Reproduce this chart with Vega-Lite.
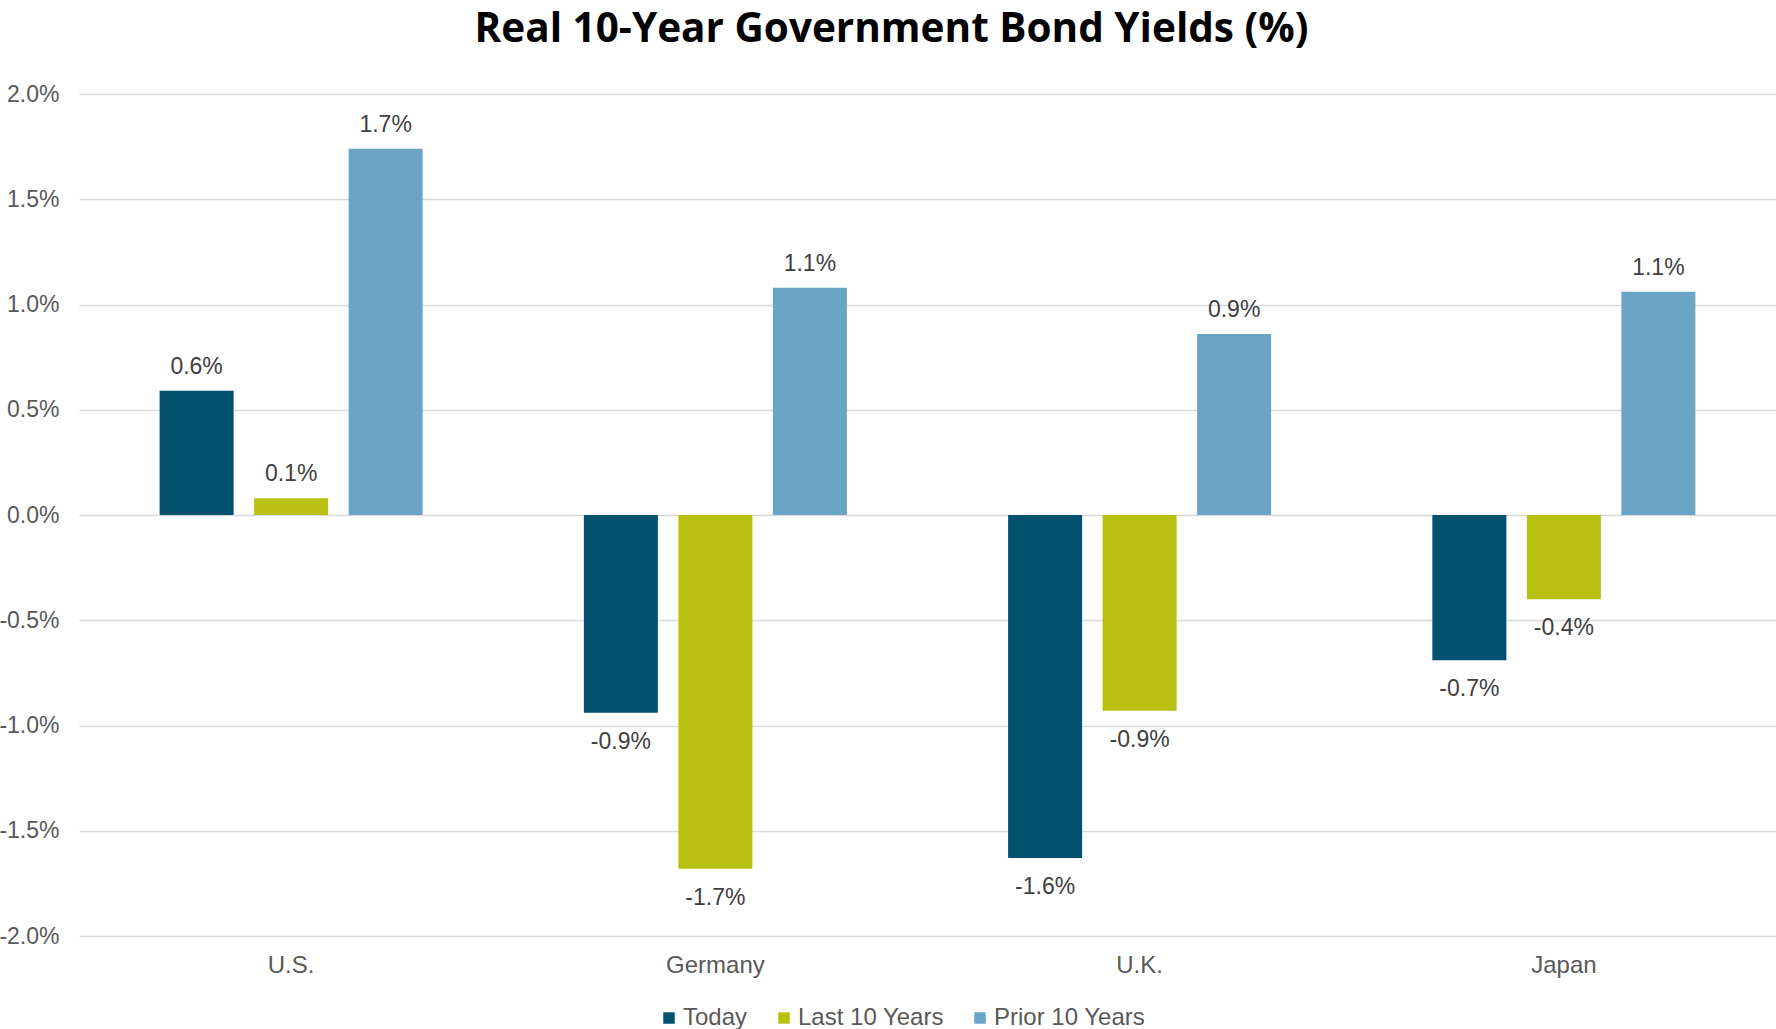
{
  "$schema": "https://vega.github.io/schema/vega-lite/v6.json",
  "autosize": {"type": "none"},
  "width": 1697,
  "height": 842,
  "padding": {"left": 79, "top": 94, "right": 0, "bottom": 93},
  "background": "white",
  "title": {
    "text": "Real 10-Year Government Bond Yields (%)",
    "font": "Open Sans",
    "fontWeight": "bold",
    "fontSize": 40.5,
    "color": "#000000",
    "anchor": "middle",
    "frame": "group",
    "dx": -36,
    "offset": 33
  },
  "data": {
    "values": [
      {"country": "U.S.", "series": "Today", "yield": 0.59},
      {"country": "U.S.", "series": "Last 10 Years", "yield": 0.08},
      {"country": "U.S.", "series": "Prior 10 Years", "yield": 1.74},
      {"country": "Germany", "series": "Today", "yield": -0.94},
      {"country": "Germany", "series": "Last 10 Years", "yield": -1.68},
      {"country": "Germany", "series": "Prior 10 Years", "yield": 1.08},
      {"country": "U.K.", "series": "Today", "yield": -1.63},
      {"country": "U.K.", "series": "Last 10 Years", "yield": -0.93},
      {"country": "U.K.", "series": "Prior 10 Years", "yield": 0.86},
      {"country": "Japan", "series": "Today", "yield": -0.69},
      {"country": "Japan", "series": "Last 10 Years", "yield": -0.40},
      {"country": "Japan", "series": "Prior 10 Years", "yield": 1.06}
    ]
  },
  "encoding": {
    "x": {
      "field": "country",
      "type": "nominal",
      "sort": ["U.S.", "Germany", "U.K.", "Japan"],
      "scale": {"paddingInner": 0.38, "paddingOuter": 0.19},
      "axis": {
        "title": null,
        "labelAngle": 0,
        "domain": false,
        "ticks": false,
        "labelFont": "Liberation Sans",
        "labelFontSize": 24,
        "labelColor": "#595959",
        "labelPadding": 17
      }
    },
    "xOffset": {
      "field": "series",
      "type": "nominal",
      "sort": ["Today", "Last 10 Years", "Prior 10 Years"],
      "scale": {"paddingInner": 0.217, "paddingOuter": 0}
    },
    "y": {
      "field": "yield",
      "type": "quantitative",
      "scale": {"domain": [-2, 2], "nice": false},
      "axis": {
        "title": null,
        "values": [-2, -1.5, -1, -0.5, 0, 0.5, 1, 1.5, 2],
        "labelExpr": "replace(format(datum.value, '.1f'), '\u2212', '-') + '%'",
        "domain": false,
        "ticks": false,
        "grid": true,
        "gridColor": "#d9d9d9",
        "gridWidth": 1.5,
        "labelFont": "Liberation Sans",
        "labelFontSize": 23,
        "labelColor": "#595959",
        "labelPadding": 20
      }
    }
  },
  "layer": [
    {
      "mark": {"type": "bar"},
      "encoding": {
        "color": {
          "field": "series",
          "type": "nominal",
          "sort": ["Today", "Last 10 Years", "Prior 10 Years"],
          "scale": {
            "domain": ["Today", "Last 10 Years", "Prior 10 Years"],
            "range": ["#01516F", "#B8C111", "#6BA5C6"]
          },
          "legend": {
            "title": null,
            "orient": "none",
            "legendX": 578,
            "legendY": 912,
            "direction": "horizontal",
            "symbolType": "square",
            "symbolSize": 132,
            "symbolStrokeWidth": 0,
            "labelFont": "Liberation Sans",
            "labelFontSize": 24,
            "labelColor": "#595959",
            "labelOffset": 2,
            "columnPadding": 24
          }
        }
      }
    },
    {
      "transform": [{"filter": "datum.yield >= 0"}],
      "mark": {
        "type": "text",
        "baseline": "alphabetic",
        "dy": -17,
        "font": "Liberation Sans",
        "fontSize": 23,
        "color": "#404040",
        "text": {"expr": "replace(format(datum.yield, '.1f'), '\u2212', '-') + '%'"}
      }
    },
    {
      "transform": [{"filter": "datum.yield < 0"}],
      "mark": {
        "type": "text",
        "baseline": "alphabetic",
        "dy": 36,
        "font": "Liberation Sans",
        "fontSize": 23,
        "color": "#404040",
        "text": {"expr": "replace(format(datum.yield, '.1f'), '\u2212', '-') + '%'"}
      }
    }
  ],
  "config": {
    "view": {"stroke": null}
  }
}
